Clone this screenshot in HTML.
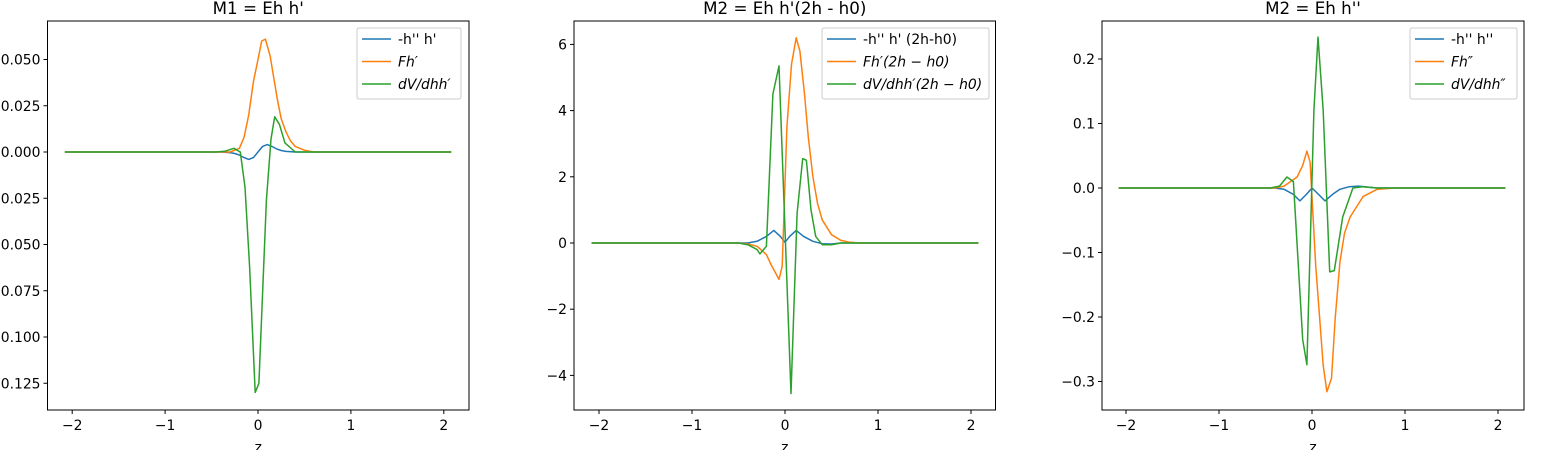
<!DOCTYPE html>
<html><head><meta charset="utf-8"><style>
body{margin:0;background:#fff;width:1550px;height:450px;overflow:hidden}
svg text{font-family:"DejaVu Sans","Liberation Sans",sans-serif;font-size:13.9px;fill:#000}
</style></head><body>
<svg id="fig" width="1550" height="450" xmlns="http://www.w3.org/2000/svg"></svg>
<script>
// Panel 1 data
const p1BlueX=[-2.08,-0.4,-0.3,-0.25,-0.2,-0.15,-0.1,-0.05,0,0.05,0.1,0.15,0.2,0.25,0.3,0.4,2.08];
const p1BlueY=[0,0,-0.0003,-0.0008,-0.0017,-0.003,-0.004,-0.003,0,0.003,0.004,0.003,0.0017,0.0008,0.0003,0,0];
const p1OrangeX=[-2.08,-0.3,-0.2,-0.15,-0.1,-0.05,0,0.04,0.08,0.13,0.17,0.21,0.25,0.3,0.35,0.4,0.5,0.6,2.08];
const p1OrangeY=[0,0,0.002,0.008,0.02,0.038,0.05,0.06,0.061,0.052,0.04,0.028,0.018,0.011,0.006,0.003,0.001,0,0];
const p1GreenX=[-2.08,-0.45,-0.35,-0.26,-0.19,-0.14,-0.09,-0.03,0.01,0.09,0.14,0.18,0.23,0.29,0.4,0.5,2.08];
const p1GreenY=[0,0,0.0005,0.002,0,-0.019,-0.062,-0.130,-0.125,-0.026,0.007,0.019,0.015,0.005,0,0,0];
// Panel 2 data
const p2BlueX=[-2.08,-0.4,-0.3,-0.2,-0.12,-0.05,0,0.05,0.12,0.2,0.3,0.4,0.5,0.6,2.08];
const p2BlueY=[0,0,0.05,0.2,0.38,0.2,0.02,0.2,0.38,0.2,0.05,-0.02,-0.03,0,0];
const p2OrangeX=[-2.08,-0.5,-0.4,-0.3,-0.2,-0.15,-0.065,-0.03,0.02,0.07,0.12,0.16,0.21,0.25,0.3,0.35,0.4,0.5,0.6,0.7,0.8,2.08];
const p2OrangeY=[0,0,-0.03,-0.1,-0.35,-0.65,-1.1,-0.7,3.5,5.4,6.2,5.8,4.5,3.2,2.0,1.2,0.7,0.25,0.08,0.02,0,0];
const p2GreenX=[-2.08,-0.5,-0.4,-0.3,-0.27,-0.2,-0.13,-0.065,0.065,0.13,0.19,0.23,0.28,0.33,0.4,0.5,0.6,2.08];
const p2GreenY=[0,0,-0.05,-0.2,-0.33,-0.1,4.5,5.35,-4.55,0.9,2.55,2.5,1.0,0.2,-0.05,-0.05,0,0];
// Panel 3 data
const p3BlueX=[-2.08,-0.4,-0.3,-0.2,-0.13,-0.06,0,0.07,0.14,0.22,0.3,0.4,0.5,0.7,2.08];
const p3BlueY=[0,0,-0.002,-0.01,-0.02,-0.01,0,-0.01,-0.02,-0.01,-0.002,0.002,0.003,0,0];
const p3OrangeX=[-2.08,-0.4,-0.3,-0.16,-0.1,-0.055,-0.02,0.04,0.12,0.16,0.21,0.25,0.3,0.35,0.41,0.55,0.7,0.9,2.08];
const p3OrangeY=[0,0,0.003,0.017,0.035,0.057,0.04,-0.12,-0.275,-0.316,-0.295,-0.2,-0.115,-0.07,-0.045,-0.013,-0.002,0,0];
const p3GreenX=[-2.08,-0.45,-0.35,-0.27,-0.2,-0.1,-0.055,0.02,0.065,0.12,0.19,0.24,0.33,0.44,0.54,0.7,2.08];
const p3GreenY=[0,0,0.003,0.017,0.01,-0.235,-0.274,0.12,0.234,0.12,-0.13,-0.128,-0.045,0,0.002,0,0];

const xTicks=[-2,-1,0,1,2];
const p1YTicks=[0.05,0.025,0,-0.025,-0.05,-0.075,-0.1,-0.125];
const p1YLabels=["0.050","0.025","0.000","\u22120.025","\u22120.050","\u22120.075","\u22120.100","\u22120.125"];
const p2YTicks=[6,4,2,0,-2,-4];
const p3YTicks=[0.2,0.1,0,-0.1,-0.2,-0.3];

const NS="http://www.w3.org/2000/svg";
const fig=document.getElementById('fig');
function el(tag,attrs,parent){const e=document.createElementNS(NS,tag);for(const k in attrs)e.setAttribute(k,attrs[k]);(parent||fig).appendChild(e);return e;}
const C=['#1f77b4','#ff7f0e','#2ca02c'];

function panel(cfg){
  const g=el('g',{});
  
  
  const xs=v=>cfg.x0+v*cfg.xu;
  const ys=v=>cfg.y0-v*cfg.yu;
  const t=el('text',{x:(cfg.L+cfg.R)/2,y:14,'text-anchor':'middle',style:'font-size:16.7px'},g);
  t.textContent=cfg.title;
  
  
  cfg.series.forEach((s,i)=>{
    const d=s.x.map((v,j)=>(j?'L':'M')+xs(v).toFixed(1)+','+ys(s.y[j]).toFixed(1)).join('');
    const p=el('path',{d:d,fill:'none',stroke:C[i],'stroke-width':1.5,'stroke-linejoin':'round'},g);
    
    
  });
  const fr=el('rect',{x:cfg.L,y:21,width:cfg.R-cfg.L,height:410-21,fill:'none',stroke:'#000','stroke-width':1},g);
  
  
  xTicks.forEach(v=>{
    el('line',{x1:xs(v),x2:xs(v),y1:410,y2:414,stroke:'#000'},g);
    const tt=el('text',{x:xs(v),y:430,'text-anchor':'middle'},g);
    tt.textContent=v<0?'\u2212'+(-v):String(v);
    
    
  });
  const xl=el('text',{x:(cfg.L+cfg.R)/2,y:452,'text-anchor':'middle'},g);
  xl.textContent='z';
  
  
  cfg.yt.forEach((v,i)=>{
    el('line',{x1:cfg.L-4,x2:cfg.L,y1:ys(v),y2:ys(v),stroke:'#000'},g);
    const tt=el('text',{x:cfg.L-7,y:ys(v)+5,'text-anchor':'end'},g);
    tt.textContent=cfg.yl[i];
    
    
  });
  const lg=el('g',{},g);
  
  
  el('rect',{x:cfg.lx,y:28,width:cfg.lw,height:71,rx:2,fill:'#fff','fill-opacity':0.8,stroke:'#ccc'},lg);
  cfg.series.forEach((s,i)=>{
    const yy=39+i*22.5;
    el('line',{x1:cfg.lx+5,x2:cfg.lx+34,y1:yy,y2:yy,stroke:C[i],'stroke-width':1.5},lg);
    const lt=el('text',{x:cfg.lx+41,y:yy+5,'font-style':i?'italic':'normal'},lg);
    lt.textContent=s.label;
    
    
  });
}
panel({name:'panel-m1',title:"M1 = Eh h'",L:47.5,R:469,x0:258,xu:92.9,y0:152,yu:1850,
  yt:p1YTicks,yl:p1YLabels,lx:357,lw:104,
  series:[{n:'blue',x:p1BlueX,y:p1BlueY,label:"-h'' h'"},{n:'orange',x:p1OrangeX,y:p1OrangeY,label:"Fh\u2032"},{n:'green',x:p1GreenX,y:p1GreenY,label:"dV/dhh\u2032"}]});
panel({name:'panel-m2a',title:"M2 = Eh h'(2h - h0)",L:574,R:995.5,x0:785,xu:93,y0:243,yu:33.1,
  yt:p2YTicks,yl:p2YTicks.map(v=>v<0?'\u2212'+(-v):String(v)),lx:822,lw:167,
  series:[{n:'blue',x:p2BlueX,y:p2BlueY,label:"-h'' h' (2h-h0)"},{n:'orange',x:p2OrangeX,y:p2OrangeY,label:"Fh\u2032(2h \u2212 h0)"},{n:'green',x:p2GreenX,y:p2GreenY,label:"dV/dhh\u2032(2h \u2212 h0)"}]});
panel({name:'panel-m2b',title:"M2 = Eh h''",L:1102,R:1524,x0:1312,xu:93,y0:188,yu:645,
  yt:p3YTicks,yl:p3YTicks.map(v=>v<0?'\u2212'+(-v).toFixed(1):v.toFixed(1)),lx:1410,lw:107,
  series:[{n:'blue',x:p3BlueX,y:p3BlueY,label:"-h'' h''"},{n:'orange',x:p3OrangeX,y:p3OrangeY,label:"Fh\u2033"},{n:'green',x:p3GreenX,y:p3GreenY,label:"dV/dhh\u2033"}]});
</script>
</body></html>
